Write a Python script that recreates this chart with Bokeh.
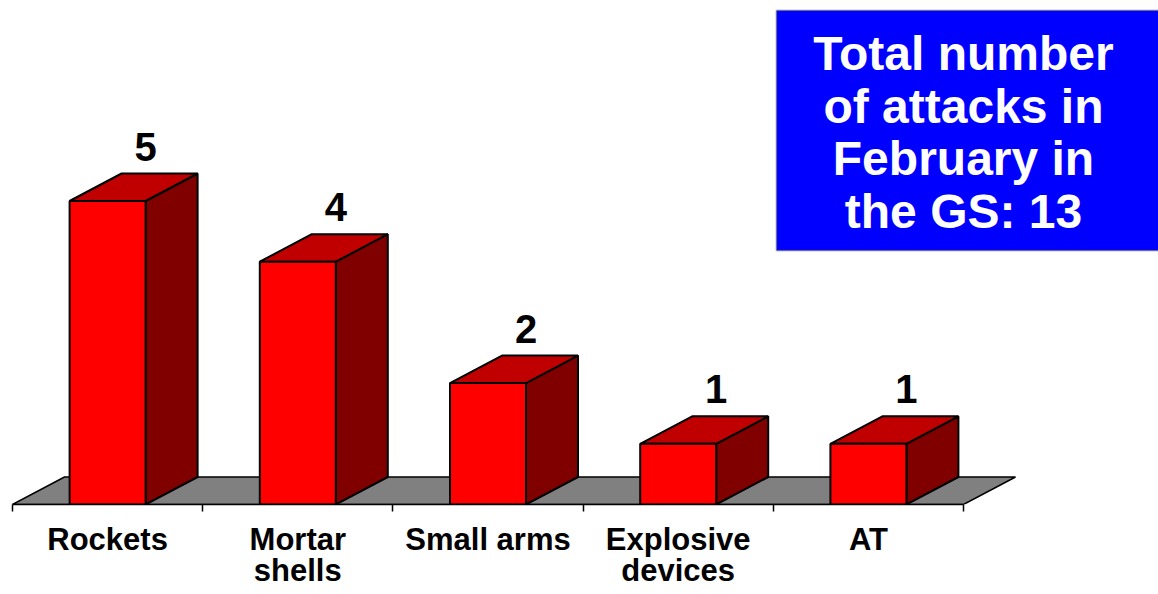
from bokeh.plotting import figure
from bokeh.models import FixedTicker, BoxAnnotation, Label, Range1d
from bokeh.core.properties import value
from bokeh.embed import file_html
from bokeh.resources import INLINE

# ---- data ----
categories = ["Rockets", "Mortar\nshells", "Small arms", "Explosive\ndevices", "AT"]
attacks = [5, 4, 2, 1, 1]
total_text = "Total number\nof attacks in\nFebruary in\nthe GS: 13"

# ---- layout constants ----
PX_X = 190.2   # pixels per category
PX_Y = 60.7    # pixels per attack
W, H = 1158, 594
AXIS_Y = 504
BOTTOM = H - AXIS_Y
x_start = -12 / PX_X
x_end = x_start + W / PX_X
y_end = AXIS_Y / PX_Y

DX = 52 / PX_X      # 3D depth offset (x)
DY = 27.5 / PX_Y    # 3D depth offset (y)
HW = 38 / PX_X      # half bar width

FONT = value("Liberation Sans")

p = figure(width=W, height=H,
           x_range=Range1d(x_start, x_end),
           y_range=Range1d(0, y_end),
           output_backend="svg", toolbar_location=None,
           min_border_left=0, min_border_right=0, min_border_top=0,
           min_border_bottom=BOTTOM, y_axis_location=None)
p.outline_line_color = None
p.grid.visible = False
p.background_fill_color = "white"

n = len(categories)
centers = [i + 0.5 for i in range(n)]

# floor
p.patch([0, n, n + DX, DX], [0, 0, DY, DY],
        fill_color="#808080", line_color="black", line_width=1.5)

# side faces
side_xs = [[c + HW, c + HW + DX, c + HW + DX, c + HW] for c in centers]
side_ys = [[0, DY, v + DY, v] for v in attacks]
p.patches(side_xs, side_ys, fill_color="#800000", line_color="black", line_width=2)

# top faces
top_xs = [[c - HW, c + HW, c + HW + DX, c - HW + DX] for c in centers]
top_ys = [[v, v, v + DY, v + DY] for v in attacks]
p.patches(top_xs, top_ys, fill_color="#C00000", line_color="black", line_width=2)

# front faces
p.quad(left=[c - HW for c in centers], right=[c + HW for c in centers],
       bottom=0, top=attacks, fill_color="#FF0000", line_color="black", line_width=2)

# value labels
p.text(x=[c + HW for c in centers], y=[v + DY for v in attacks],
       text=[str(v) for v in attacks], y_offset=-13,
       text_align="center", text_baseline="bottom",
       text_font=FONT, text_font_style="bold", text_font_size="40px",
       text_color="black")

# x axis
ax = p.xaxis[0]
ax.ticker = FixedTicker(ticks=centers, minor_ticks=list(range(n + 1)))
ax.bounds = (0, n)
ax.major_label_overrides = {c: cat for c, cat in zip(centers, categories)}
ax.major_tick_out = 0
ax.major_tick_in = 0
ax.minor_tick_out = 7
ax.minor_tick_in = 0
ax.minor_tick_line_color = "black"
ax.minor_tick_line_width = 1.5
ax.axis_line_color = "black"
ax.axis_line_width = 1.5
ax.major_label_standoff = 10
ax.major_label_text_font = "Liberation Sans"
ax.major_label_text_font_style = "bold"
ax.major_label_text_font_size = "31px"
ax.major_label_text_line_height = 0.9
ax.major_label_text_color = "black"

# title box
box = BoxAnnotation(left=(776 - 12) / PX_X, right=x_end + 1,
                    bottom=(AXIS_Y - 250) / PX_Y, top=(AXIS_Y - 10) / PX_Y,
                    fill_color="#0000FF", fill_alpha=1.0,
                    line_color="#333333", line_width=2)
p.add_layout(box)

lbl = Label(x=(963 - 12) / PX_X, y=(AXIS_Y - 132) / PX_Y, text=total_text,
            text_align="center", text_baseline="middle",
            text_font="Liberation Sans", text_font_style="bold",
            text_font_size="48px", text_color="white", text_line_height=0.99)
p.add_layout(lbl)

open("out.html", "w").write(file_html(p, INLINE))
